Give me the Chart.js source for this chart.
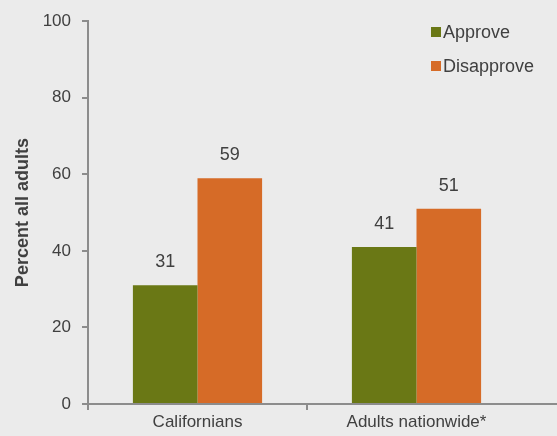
<!DOCTYPE html>
<html>
<head>
<meta charset="utf-8">
<script src="https://cdn.jsdelivr.net/npm/chart.js@4/dist/chart.umd.min.js"></script>
<style>
  html, body { margin: 0; padding: 0; background: #ebebeb; }
  #wrap { width: 557px; height: 436px; }
</style>
</head>
<body>
<div id="wrap"><canvas id="chart" width="557" height="436"></canvas></div>
<script>
const categories = ['Californians', 'Adults nationwide*'];
const approve = [31, 41];
const disapprove = [59, 51];
const yTicks = [0, 20, 40, 60, 80, 100];

const axisGray = '#8c8c8c';
const textGray = '#404040';
const fontFamily = '"Liberation Sans", Arial, sans-serif';

// value labels above each bar
const barLabels = {
  id: 'barLabels',
  afterDatasetsDraw(chart) {
    const ctx = chart.ctx;
    ctx.save();
    ctx.font = '18px ' + fontFamily;
    ctx.fillStyle = textGray;
    ctx.textAlign = 'center';
    ctx.textBaseline = 'middle';
    chart.data.datasets.forEach((ds, i) => {
      chart.getDatasetMeta(i).data.forEach((bar, j) => {
        ctx.fillText(ds.data[j], bar.x, bar.y - 23);
      });
    });
    ctx.restore();
  }
};

// x axis line running to the right edge + legend in the top right
const extras = {
  id: 'extras',
  afterDraw(chart) {
    const ctx = chart.ctx;
    const area = chart.chartArea;
    ctx.save();
    ctx.strokeStyle = axisGray;
    ctx.lineWidth = 2;
    ctx.beginPath();
    ctx.moveTo(area.left - 6, area.bottom);
    ctx.lineTo(chart.width, area.bottom);
    ctx.stroke();

    ctx.font = '18px ' + fontFamily;
    ctx.textBaseline = 'middle';
    ctx.textAlign = 'left';
    chart.data.datasets.forEach((ds, i) => {
      const y = 32 + i * 34;
      ctx.fillStyle = ds.backgroundColor;
      ctx.fillRect(431, y - 5, 10, 10);
      ctx.fillStyle = textGray;
      ctx.fillText(ds.label, 443, y + 1);
    });
    ctx.restore();
  }
};

new Chart(document.getElementById('chart'), {
  type: 'bar',
  data: {
    labels: categories,
    datasets: [
      { label: 'Approve', data: approve, backgroundColor: '#6a7815' },
      { label: 'Disapprove', data: disapprove, backgroundColor: '#d66b27' }
    ]
  },
  options: {
    responsive: false,
    animation: false,
    layout: { padding: { top: 17, right: 31, left: 0, bottom: 0 } },
    datasets: {
      bar: { categoryPercentage: 0.59, barPercentage: 1.0 }
    },
    plugins: {
      legend: { display: false },
      tooltip: { enabled: false }
    },
    scales: {
      x: {
        afterFit(scale) { scale.height = 32; },
        grid: {
          drawOnChartArea: false,
          drawTicks: true,
          tickLength: 6,
          lineWidth: 2,
          color: ctx => ctx.type === 'tick' ? axisGray : 'rgba(0,0,0,0)'
        },
        border: { display: false },
        ticks: {
          color: textGray,
          padding: 2,
          font: { size: 17, family: fontFamily }
        }
      },
      y: {
        min: 0,
        max: 100,
        afterFit(scale) { scale.width = 88; },
        afterBuildTicks(scale) { scale.ticks = yTicks.map(v => ({ value: v })); },
        grid: {
          drawOnChartArea: false,
          drawTicks: true,
          tickLength: 6,
          lineWidth: 2,
          color: axisGray
        },
        border: { display: true, color: axisGray, width: 2 },
        ticks: {
          color: textGray,
          padding: 11,
          font: { size: 17, family: fontFamily }
        },
        title: {
          display: true,
          text: 'Percent all adults',
          color: textGray,
          padding: { top: 12, bottom: 0 },
          font: { size: 18, weight: 'bold', family: fontFamily }
        }
      }
    }
  },
  plugins: [barLabels, extras]
});
</script>
</body>
</html>
